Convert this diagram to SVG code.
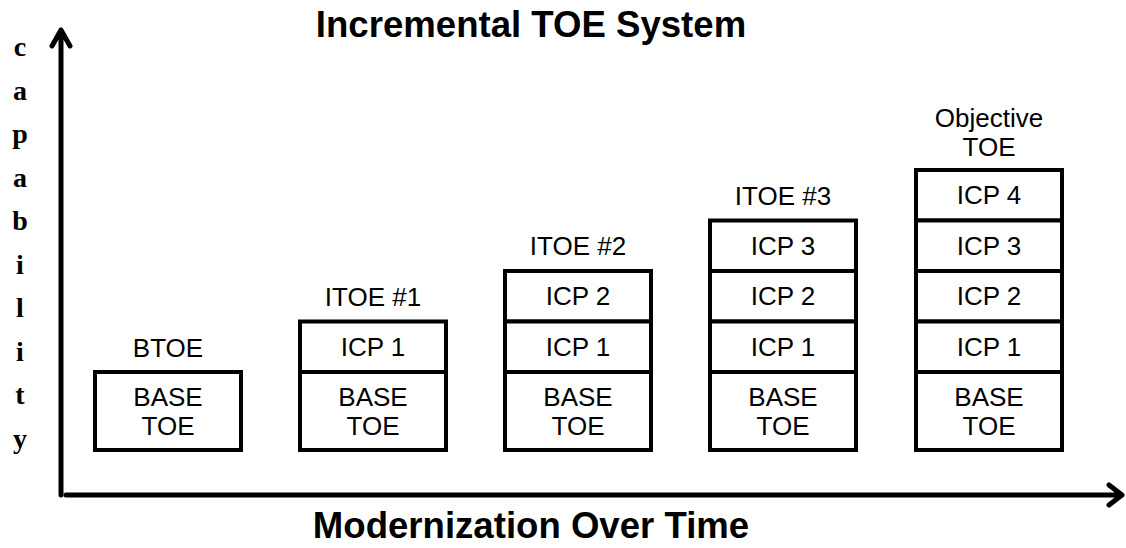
<svg xmlns="http://www.w3.org/2000/svg" width="1126" height="548" viewBox="0 0 1126 548">
<style>
.box{fill:#fff;stroke:#000;stroke-width:4}
.ax{fill:none;stroke:#000;stroke-width:5;stroke-linecap:round;stroke-linejoin:round}
.t{font-family:"Liberation Sans",Arial,sans-serif;font-size:26px;fill:#000;text-anchor:middle}
.h{font-family:"Liberation Sans",Arial,sans-serif;font-size:36.6px;font-weight:bold;fill:#000;text-anchor:middle}
.v{font-family:"Liberation Serif","Times New Roman",serif;font-size:28px;font-weight:bold;fill:#000;text-anchor:middle}
</style>
<rect width="1126" height="548" fill="#fff"/>
<text class="h" x="531" y="37">Incremental TOE System</text>
<text class="h" x="531" y="538">Modernization Over Time</text>
<g id="ylabel">
<text class="v" x="20" y="56">c</text>
<text class="v" x="20" y="99.5">a</text>
<text class="v" x="20" y="143">p</text>
<text class="v" x="20" y="186.5">a</text>
<text class="v" x="20" y="230">b</text>
<text class="v" x="20" y="273.5">i</text>
<text class="v" x="20" y="317">l</text>
<text class="v" x="20" y="360.5">i</text>
<text class="v" x="20" y="404">t</text>
<text class="v" x="20" y="447.5">y</text>
</g>
<g id="connectors">
<path class="ax" d="M61 495 V30 M52 46 L61 30 L70 46"/>
<path class="ax" d="M66 495 H1122 M1109 485 L1122 495 L1109 505"/>
</g>
<g id="col1">
<text class="t" x="168" y="357">BTOE</text>
<rect class="box" x="95" y="372" width="146" height="78"/>
<text class="t" x="168" y="406">BASE</text><text class="t" x="168" y="435">TOE</text>
</g>
<g id="col2">
<text class="t" x="373" y="306">ITOE #1</text>
<rect class="box" x="300" y="321.5" width="146" height="50.5"/>
<text class="t" x="373" y="356">ICP 1</text>
<rect class="box" x="300" y="372" width="146" height="78"/>
<text class="t" x="373" y="406">BASE</text><text class="t" x="373" y="435">TOE</text>
</g>
<g id="col3">
<text class="t" x="578" y="255">ITOE #2</text>
<rect class="box" x="505" y="271" width="146" height="50.5"/>
<text class="t" x="578" y="305">ICP 2</text>
<rect class="box" x="505" y="321.5" width="146" height="50.5"/>
<text class="t" x="578" y="356">ICP 1</text>
<rect class="box" x="505" y="372" width="146" height="78"/>
<text class="t" x="578" y="406">BASE</text><text class="t" x="578" y="435">TOE</text>
</g>
<g id="col4">
<text class="t" x="783" y="205">ITOE #3</text>
<rect class="box" x="710" y="220.5" width="146" height="50.5"/>
<text class="t" x="783" y="255">ICP 3</text>
<rect class="box" x="710" y="271" width="146" height="50.5"/>
<text class="t" x="783" y="305">ICP 2</text>
<rect class="box" x="710" y="321.5" width="146" height="50.5"/>
<text class="t" x="783" y="356">ICP 1</text>
<rect class="box" x="710" y="372" width="146" height="78"/>
<text class="t" x="783" y="406">BASE</text><text class="t" x="783" y="435">TOE</text>
</g>
<g id="col5">
<text class="t" x="989" y="127">Objective</text>
<text class="t" x="989" y="156">TOE</text>
<rect class="box" x="916" y="170" width="146" height="50.5"/>
<text class="t" x="989" y="204">ICP 4</text>
<rect class="box" x="916" y="220.5" width="146" height="50.5"/>
<text class="t" x="989" y="255">ICP 3</text>
<rect class="box" x="916" y="271" width="146" height="50.5"/>
<text class="t" x="989" y="305">ICP 2</text>
<rect class="box" x="916" y="321.5" width="146" height="50.5"/>
<text class="t" x="989" y="356">ICP 1</text>
<rect class="box" x="916" y="372" width="146" height="78"/>
<text class="t" x="989" y="406">BASE</text><text class="t" x="989" y="435">TOE</text>
</g>
</svg>
